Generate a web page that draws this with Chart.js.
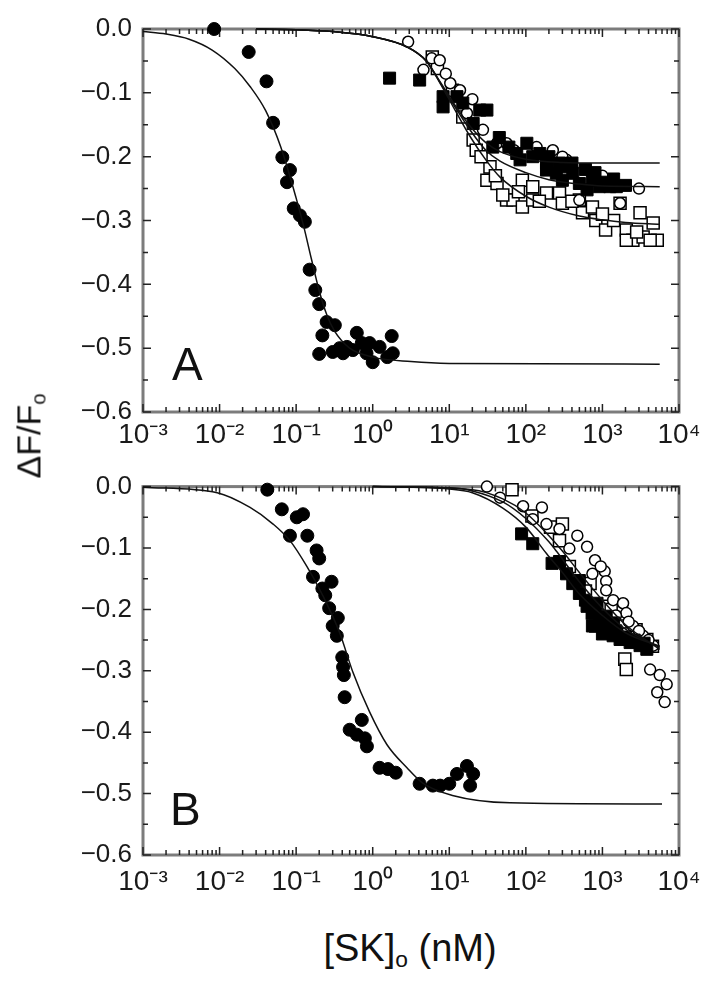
<!DOCTYPE html>
<html>
<head>
<meta charset="utf-8">
<script src="https://cdn.jsdelivr.net/npm/chart.js@4.4.1/dist/chart.umd.min.js"></script>
<style>
  body { margin: 0; width: 712px; height: 981px; background: #fff; position: relative; overflow: hidden; font-family: "Liberation Sans", Arial, sans-serif; }
  canvas { position: absolute; left: 0; }
  #chartA { top: 0; }
  #chartB { top: 460px; }
  .panel { position: absolute; font-size: 46px; line-height: 46px; color: #111; }
  .ytitle { position: absolute; left: 30px; top: 436px; font-size: 34px; color: #111; white-space: nowrap;
            transform: translate(-50%, -50%) rotate(-90deg); }
  .xtitle { position: absolute; left: 410px; top: 950px; font-size: 38px; color: #111; white-space: nowrap;
            transform: translate(-50%, -50%); }
  sub { font-size: 60%; vertical-align: -0.25em; }
</style>
</head>
<body>
<canvas id="chartA" width="712" height="460"></canvas>
<canvas id="chartB" width="712" height="460"></canvas>
<div class="panel" style="left:172px; top:341px;">A</div>
<div class="panel" style="left:170px; top:786px;">B</div>
<div class="ytitle">ΔF/F<sub>o</sub></div>
<div class="xtitle">[SK]<sub>o</sub> (nM)</div>
<script>
// axis ticks
const xDecades = [1e-3, 1e-2, 1e-1, 1e0, 1e1, 1e2, 1e3, 1e4];
const xTickLabels = ['10⁻³', '10⁻²', '10⁻¹', '10⁰', '10¹', '10²', '10³', '10⁴'];
const yTicks = [0, -0.1, -0.2, -0.3, -0.4, -0.5, -0.6];
const yTickLabels = ['0.0', '−0.1', '−0.2', '−0.3', '−0.4', '−0.5', '−0.6'];

// ---- Panel A data ([SK] nM, dF/Fo) ----
const aFilledCircles = [
  [0.0085, 0.0], [0.024, -0.036], [0.041, -0.082], [0.050, -0.147], [0.066, -0.201],
  [0.083, -0.221], [0.076, -0.24], [0.093, -0.281], [0.112, -0.292], [0.13, -0.302],
  [0.15, -0.377], [0.178, -0.409], [0.2, -0.431], [0.25, -0.459], [0.32, -0.464],
  [0.22, -0.48], [0.2, -0.509], [0.3, -0.506], [0.41, -0.508], [0.62, -0.476],
  [0.72, -0.492], [0.55, -0.503], [0.91, -0.492], [1.0, -0.522], [1.23, -0.498],
  [1.77, -0.481], [1.83, -0.508], [0.83, -0.508], [1.55, -0.514], [0.46, -0.498], [0.37, -0.5]
];
const aOpenCircles = [
  [2.9, -0.02], [5.9, -0.046], [7.5, -0.049], [4.6, -0.064], [10.3, -0.085],
  [13.8, -0.096], [17, -0.132], [27.5, -0.158], [42, -0.179], [56, -0.179],
  [138, -0.185], [225, -0.19], [340, -0.205], [500, -0.268], [1700, -0.273],
  [9, -0.07], [20, -0.11], [70, -0.19], [300, -0.2], [1000, -0.23], [3000, -0.25]
];
const aFilledSquares = [
  [1.66, -0.077], [4.1, -0.08], [8.3, -0.106], [8.3, -0.122], [12.6, -0.106],
  [15, -0.116], [25, -0.127], [31, -0.127], [20.5, -0.148], [37, -0.185],
  [76, -0.195], [103, -0.179], [123, -0.2], [152, -0.195], [186, -0.21],
  [275, -0.21], [340, -0.216], [410, -0.226], [300, -0.237], [500, -0.242],
  [740, -0.237], [910, -0.247], [1250, -0.247], [1520, -0.247], [630, -0.252],
  [186, -0.221], [84, -0.205], [250, -0.226], [45, -0.17], [60, -0.185],
  [200, -0.2], [400, -0.21], [800, -0.225], [1000, -0.24], [1400, -0.235],
  [600, -0.22], [2000, -0.245]
];
const aOpenSquares = [
  [6, -0.044], [7, -0.062], [11, -0.096], [15, -0.138], [20.5, -0.174],
  [22.5, -0.19], [31, -0.237], [34, -0.216], [42, -0.242], [56, -0.268],
  [68, -0.268], [90, -0.237], [90, -0.279], [123, -0.268], [123, -0.247],
  [186, -0.257], [275, -0.257], [300, -0.273], [500, -0.268], [550, -0.288],
  [740, -0.279], [820, -0.3], [1100, -0.315], [1700, -0.273], [2050, -0.315],
  [3100, -0.288], [2500, -0.331], [3400, -0.326], [4600, -0.304], [5200, -0.331],
  [4200, -0.331], [2050, -0.331], [26, -0.2], [40, -0.23], [50, -0.26],
  [80, -0.255], [150, -0.27], [400, -0.27], [1400, -0.3], [2800, -0.318], [1000, -0.29]
];
// fitted curves
const aFitLeft = [
  [0.001, -0.004], [0.002, -0.008], [0.004, -0.016], [0.008, -0.033], [0.0158, -0.062],
  [0.025, -0.09], [0.04, -0.128], [0.063, -0.185], [0.1, -0.265], [0.126, -0.31],
  [0.158, -0.36], [0.2, -0.41], [0.25, -0.447], [0.316, -0.473], [0.5, -0.5],
  [1, -0.514], [3.16, -0.521], [10, -0.524], [5600, -0.525]
];
const aFitTop = [
  [0.03, 0], [0.1, -0.001], [0.3, -0.004], [1, -0.012], [2.8, -0.028], [5, -0.05],
  [7.6, -0.083], [12, -0.12], [18.6, -0.152], [30, -0.178], [46, -0.192], [100, -0.204],
  [300, -0.209], [1000, -0.21], [5600, -0.21]
];
const aFitMid = [
  [0.03, 0], [0.1, -0.001], [0.3, -0.004], [1, -0.012], [2.8, -0.028], [5, -0.05],
  [7.6, -0.084], [12, -0.123], [18.6, -0.158], [30, -0.19], [46, -0.207], [100, -0.225],
  [200, -0.236], [500, -0.243], [1000, -0.246], [5600, -0.247]
];
const aFitLow = [
  [0.03, 0], [0.1, -0.001], [0.3, -0.004], [1, -0.012], [2.8, -0.028], [5, -0.05],
  [7.6, -0.085], [12, -0.128], [18.6, -0.168], [30, -0.205], [46, -0.232], [100, -0.262],
  [200, -0.279], [500, -0.293], [1000, -0.299], [2000, -0.303], [5600, -0.306]
];

// ---- Panel B data ----
const bFilledCircles = [
  [0.042, -0.005], [0.065, -0.037], [0.102, -0.05], [0.123, -0.045], [0.083, -0.08],
  [0.14, -0.08], [0.185, -0.104], [0.2, -0.117], [0.166, -0.147], [0.22, -0.166],
  [0.29, -0.155], [0.24, -0.177], [0.27, -0.198], [0.35, -0.214], [0.3, -0.227],
  [0.34, -0.243], [0.4, -0.278], [0.41, -0.294], [0.42, -0.307], [0.43, -0.343],
  [0.72, -0.38], [0.5, -0.396], [0.62, -0.404], [0.79, -0.41], [0.84, -0.423],
  [1.23, -0.458], [1.58, -0.46], [2.0, -0.466], [4.1, -0.484], [6.1, -0.487],
  [7.6, -0.487], [10, -0.484], [12.6, -0.468], [17, -0.455], [20.5, -0.468], [18.7, -0.487]
];
const bOpenCircles = [
  [31, 0.0], [46, -0.018], [92, -0.032], [162, -0.034], [123, -0.053],
  [186, -0.061], [275, -0.069], [470, -0.08], [630, -0.098], [370, -0.101],
  [1070, -0.138], [1120, -0.154], [1380, -0.185], [1860, -0.19], [2500, -0.227],
  [3400, -0.243], [4600, -0.259], [4200, -0.298], [5600, -0.307], [6900, -0.322],
  [5200, -0.335], [6500, -0.351], [2050, -0.206], [740, -0.142], [1120, -0.169],
  [1500, -0.21], [2200, -0.22], [3000, -0.235], [4000, -0.25], [800, -0.12], [950, -0.13]
];
const bFilledSquares = [
  [88, -0.077], [123, -0.093], [220, -0.125], [275, -0.122], [410, -0.158],
  [500, -0.174], [630, -0.195], [740, -0.206], [910, -0.217], [1120, -0.233],
  [1380, -0.243], [1700, -0.249], [2300, -0.254], [3100, -0.259], [3800, -0.265],
  [740, -0.227], [1120, -0.211], [340, -0.142], [500, -0.153], [600, -0.185],
  [800, -0.2], [950, -0.225], [1300, -0.228], [1500, -0.235], [2000, -0.245],
  [2600, -0.25], [3500, -0.255], [850, -0.19], [1000, -0.24], [1400, -0.222]
];
const bOpenSquares = [
  [66, -0.005], [120, -0.048], [210, -0.066], [300, -0.061], [275, -0.088],
  [370, -0.13], [690, -0.158], [740, -0.206], [820, -0.227], [1960, -0.281],
  [2050, -0.298], [2750, -0.233], [3800, -0.249], [1700, -0.227], [1120, -0.195],
  [1300, -0.2], [2200, -0.24], [4500, -0.26], [600, -0.17]
];
const bFitLeft = [
  [0.001, -0.001], [0.0093, -0.01], [0.025, -0.034], [0.05, -0.061], [0.083, -0.088],
  [0.138, -0.13], [0.224, -0.178], [0.37, -0.238], [0.55, -0.302], [0.91, -0.367],
  [1.53, -0.42], [2.8, -0.458], [4.5, -0.483], [11, -0.503], [62, -0.515], [6000, -0.517]
];
const bFitA = [
  [1, 0], [10, -0.004], [20, -0.01], [50, -0.035], [100, -0.066], [186, -0.109],
  [300, -0.14], [500, -0.175], [1000, -0.21], [2000, -0.238], [5600, -0.26]
];
const bFitB = [
  [1, 0], [10, -0.002], [20, -0.007], [50, -0.025], [100, -0.052], [200, -0.09],
  [250, -0.105], [500, -0.155], [1000, -0.198], [2000, -0.232], [5600, -0.262]
];
const bFitC = [
  [1, 0], [20, -0.005], [50, -0.02], [100, -0.043], [200, -0.08], [300, -0.105],
  [500, -0.14], [1000, -0.185], [2000, -0.225], [5600, -0.265]
];

/**
 * Helpers for datasets
 */
function toPoints(arr) {
  return arr.map(([x, y]) => ({ x, y }));
}

function fitLine(arr) {
  return {
    data: toPoints(arr),
    showLine: true,
    pointRadius: 0,
    borderColor: '#111',
    borderWidth: 1.5,
    cubicInterpolationMode: 'monotone',
    clip: false
  };
}

function marks(arr, style, filled, radius) {
  return {
    data: toPoints(arr),
    showLine: false,
    pointStyle: style,
    pointRadius: radius,
    backgroundColor: filled ? '#000' : '#fff',
    borderColor: '#000',
    borderWidth: filled ? 1 : 1.5,
    clip: false
  };
}

/**
 * Frame and inward tick marks on all four sides
 */
const frameTicks = {
  id: 'frameTicks',
  beforeDatasetsDraw(chart) {
    const { ctx, chartArea: a, scales: { x, y } } = chart;
    ctx.save();
    ctx.strokeStyle = '#7c7c7c';
    ctx.lineWidth = 3;
    ctx.strokeRect(a.left, a.top, a.right - a.left, a.bottom - a.top);

    ctx.strokeStyle = '#222';
    ctx.lineWidth = 1.5;
    ctx.beginPath();
    xDecades.forEach(d => {
      for (let k = 1; k <= 9; k++) {
        const v = d * k;
        if (v > xDecades[xDecades.length - 1] * 1.0001) break;
        const px = x.getPixelForValue(v);
        const len = k === 1 ? 8 : 5;
        ctx.moveTo(px, a.bottom); ctx.lineTo(px, a.bottom - len);
        ctx.moveTo(px, a.top); ctx.lineTo(px, a.top + len);
      }
    });
    for (let i = 0; i <= 12; i++) {
      const py = y.getPixelForValue(-0.05 * i);
      const len = i % 2 === 0 ? 8 : 5;
      ctx.moveTo(a.left, py); ctx.lineTo(a.left + len, py);
      ctx.moveTo(a.right, py); ctx.lineTo(a.right - len, py);
    }
    ctx.stroke();
    ctx.restore();
  }
};

function makeChart(id, datasets, padTop, xHeight, xPad) {
  return new Chart(document.getElementById(id), {
    type: 'scatter',
    data: { datasets },
    options: {
      responsive: false,
      animation: false,
      layout: { padding: { left: 0, right: 33, top: padTop, bottom: 0 } },
      plugins: { legend: { display: false }, tooltip: { enabled: false } },
      scales: {
        x: {
          type: 'logarithmic',
          min: 1e-3,
          max: 1e4,
          grid: { display: false, drawTicks: false },
          border: { display: false },
          afterBuildTicks: s => { s.ticks = xDecades.map(v => ({ value: v, major: true })); },
          afterFit: s => { s.height = xHeight; },
          ticks: {
            autoSkip: false,
            maxRotation: 0,
            padding: xPad,
            color: '#1a1a1a',
            font: { family: '"Liberation Sans", Arial, sans-serif', size: 28 },
            callback: (v, i) => xTickLabels[i]
          }
        },
        y: {
          min: -0.6,
          max: 0,
          grid: { display: false, drawTicks: false },
          border: { display: false },
          afterBuildTicks: s => { s.ticks = yTicks.map(v => ({ value: v })); },
          afterFit: s => { s.width = 143; },
          ticks: {
            padding: 11,
            color: '#1a1a1a',
            font: { family: '"Liberation Sans", Arial, sans-serif', size: 26 },
            callback: (v, i) => yTickLabels[i]
          }
        }
      }
    },
    plugins: [frameTicks]
  });
}

document.addEventListener('DOMContentLoaded', () => {
  makeChart('chartA', [
    fitLine(aFitLeft), fitLine(aFitTop), fitLine(aFitMid), fitLine(aFitLow),
    marks(aFilledCircles, 'circle', true, 6.5),
    marks(aFilledSquares, 'rect', true, 8.5),
    marks(aOpenCircles, 'circle', false, 5.5),
    marks(aOpenSquares, 'rect', false, 8.5)
  ], 29, 48, 6);

  makeChart('chartB', [
    fitLine(bFitLeft), fitLine(bFitA), fitLine(bFitB), fitLine(bFitC),
    marks(bFilledCircles, 'circle', true, 6.5),
    marks(bFilledSquares, 'rect', true, 8.5),
    marks(bOpenCircles, 'circle', false, 5.5),
    marks(bOpenSquares, 'rect', false, 8.5)
  ], 22, 65, 10);
});
</script>
</body>
</html>
